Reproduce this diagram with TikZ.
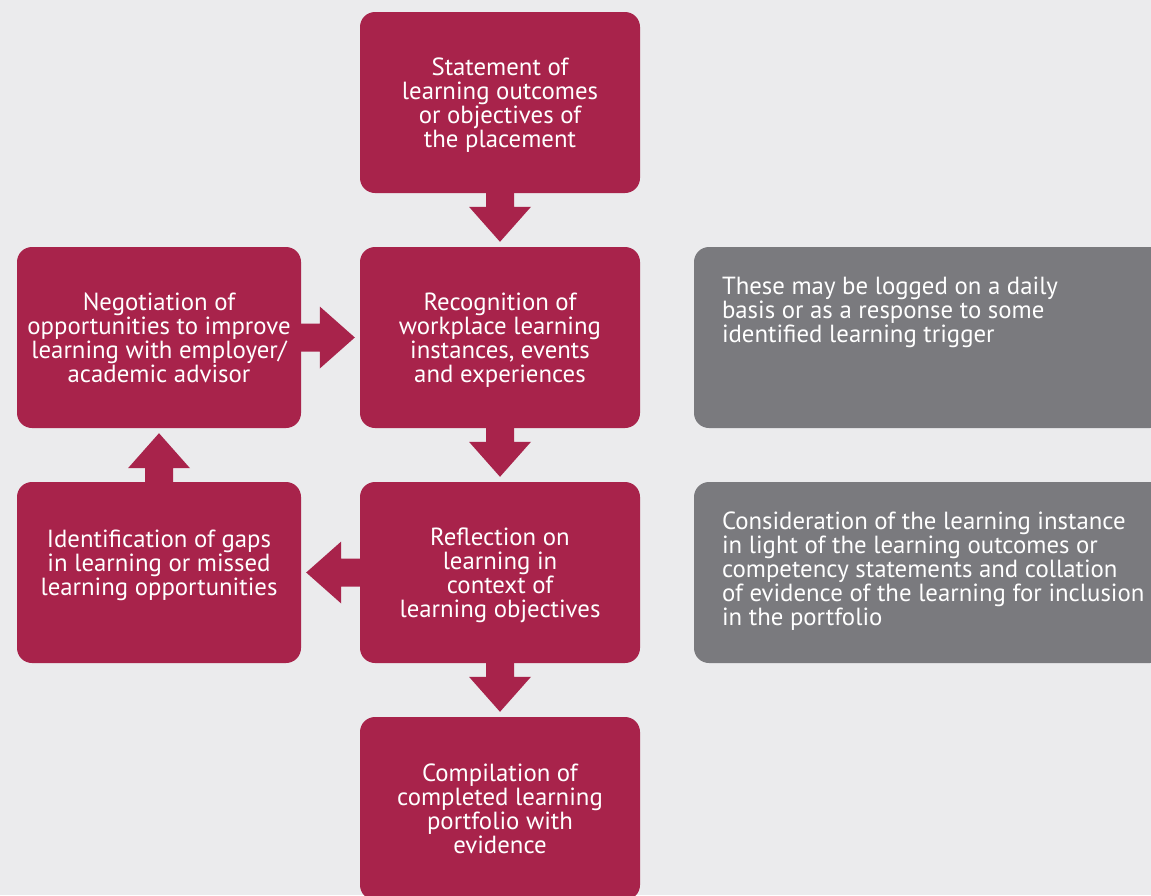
\documentclass[tikz,border=0pt]{standalone}
\usepackage{fontspec}
\setmainfont{PT Sans}
\usetikzlibrary{calc}

\definecolor{crimson}{HTML}{A8234B}
\definecolor{slate}{HTML}{7A7A7E}
\definecolor{paper}{HTML}{EBEBED}

\tikzset{
  stepbox/.style={fill=crimson, rounded corners=15pt, minimum width=280pt,
    minimum height=181pt, inner sep=0pt, text=white, align=center,
    text depth=0pt, font=\fontsize{24.8}{24}\selectfont},
  notebox/.style={fill=slate, rounded corners=15pt, minimum width=471pt,
    minimum height=181pt, inner sep=0pt},
  notetext/.style={anchor=north west, inner sep=0pt, text=white, align=left,
    font=\fontsize{24.8}{24}\selectfont},
  arrowfill/.style={fill=crimson}
}

% block arrow from anchor #1 towards anchor #2
\newcommand{\blockarrow}[2]{%
  \coordinate (ba-s) at (#1);
  \coordinate (ba-t) at ($(#2)!5pt!(#1)$);
  \coordinate (ba-b) at ($(ba-t)!35pt!(ba-s)$);
  \fill[arrowfill] ($(ba-s)!14pt!90:(ba-t)$) -- ($(ba-b)!14pt!90:(ba-t)$)
    -- ($(ba-b)!31pt!90:(ba-t)$) -- (ba-t) -- ($(ba-b)!31pt!-90:(ba-t)$)
    -- ($(ba-b)!14pt!-90:(ba-t)$) -- ($(ba-s)!14pt!-90:(ba-t)$) -- cycle;
}

\begin{document}
\begin{tikzpicture}[x=1pt, y=-1pt]

\useasboundingbox (0,0) rectangle (1151,895);
\clip (0,0) rectangle (1151,895);
\fill[paper] (0,0) rectangle (1151,895);

\node[stepbox] (stmt) at (500,102.5) {Statement of\\learning outcomes\\or objectives of\\the placement};
\node[stepbox] (recog) at (500,337.5) {Recognition of\\workplace learning\\instances, events\\and experiences};
\node[stepbox] (reflect) at (500,572.5) {Reflection on\\learning in\\context of\\learning objectives};
\node[stepbox, minimum height=183pt] (compil) at (500,808.5) {Compilation of\\completed learning\\portfolio with\\evidence};
\node[stepbox, minimum width=284pt] (negot) at (159,337.5) {Negotiation of\\opportunities to improve\\learning with employer/\\academic advisor};
\node[stepbox, minimum width=284pt] (ident) at (159,572.5) {};
\node[stepbox, fill=none, minimum width=0pt, minimum height=0pt] (identtext) at ($(ident.center)+(0,-10)$) {Identification of gaps\\in learning or missed\\learning opportunities};

\node[notebox] (note1) at (929.5,337.5) {};
\node[notebox] (note2) at (929.5,572.5) {};
\node[notetext] (note1text) at ($(note1.north west)+(28,30)$) {These may be logged on a daily\\basis or as a response to some\\identified learning trigger};
\node[notetext] (note2text) at ($(note2.north west)+(28,30)$) {Consideration of the learning instance\\in light of the learning outcomes or\\competency statements and collation\\of evidence of the learning for inclusion\\in the portfolio};

\blockarrow{stmt.south}{recog.north}
\blockarrow{recog.south}{reflect.north}
\blockarrow{reflect.south}{compil.north}
\blockarrow{negot.east}{recog.west}
\blockarrow{ident.north}{negot.south}
\blockarrow{reflect.west}{ident.east}

\end{tikzpicture}
\end{document}
